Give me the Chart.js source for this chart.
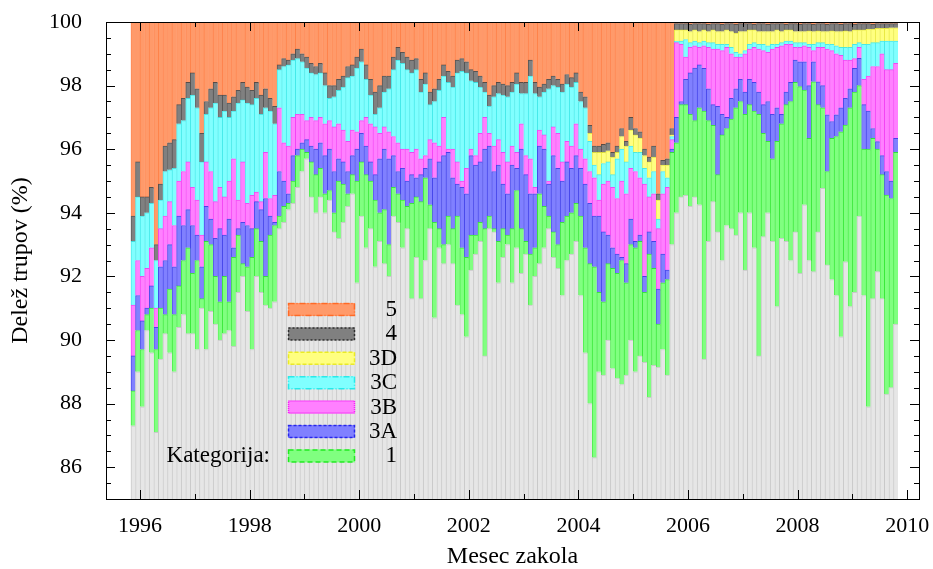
<!DOCTYPE html>
<html>
<head>
<meta charset="utf-8">
<script src="https://cdn.jsdelivr.net/npm/chart.js@4"></script>
<style>
  body { margin: 0; background: #fff; }
  canvas { display: block; }
</style>
</head>
<body>
<canvas id="chart" width="933" height="569"></canvas>
<script>
// one bar per month, November 1995 .. October 2009
var firstYear = 1995, firstMonth = 11, monthCount = 168;
var yearTicks = [1996, 1998, 2000, 2002, 2004, 2006, 2008, 2010];
var percentTicks = [86, 88, 90, 92, 94, 96, 98, 100];

// upper edge (cumulative %) of every class
var edgeRest = [
  87.3, 89.0, 87.9, 90.3, 89.6, 87.1, 89.4, 90.2, 89.6, 89.0, 90.4, 90.8, 90.2, 90.2, 89.7, 91.0, 89.7, 90.9, 90.5, 90.0, 90.2,
  90.3, 89.8, 91.5, 92.0, 90.9, 89.7, 92.0, 91.5, 91.1, 91.0, 91.2, 93.5, 93.7, 94.1, 94.3, 94.8, 95.3, 95.7, 94.5, 94.0, 94.5,
  94.0, 94.4, 93.4, 93.2, 93.7, 94.2, 94.6, 91.8, 93.9, 92.9, 93.5, 92.3, 93.1, 92.4, 92.0, 93.9, 93.7, 92.9, 93.5, 91.3, 92.6,
  91.3, 92.5, 93.5, 90.7, 92.9, 92.4, 93.0, 92.4, 91.1, 90.8, 90.1, 92.2, 92.7, 93.1, 89.5, 93.5, 93.4, 91.8, 92.6, 93.0,
  91.8, 92.9, 92.1, 92.7, 91.1, 92.0, 92.4, 92.9, 93.5, 92.6, 92.25, 91.4, 92.5, 92.7, 93.1, 91.4, 89.6, 88.0, 86.3, 89.0,
  88.9, 90.0, 89.1, 88.8, 88.6, 88.9, 90.0, 89.0, 89.5, 89.3, 88.2, 89.2, 89.15, 89.7, 88.9, 93.0,
  94.0, 94.5, 94.55, 94.2, 94.5, 94.25, 89.4, 93.1, 94.35, 93.4, 92.5, 93.6, 93.5, 93.3, 94.0, 92.2, 94.0, 92.9, 89.5, 93.25, 94.0, 93.1, 91.05, 93.2, 93.1, 92.5, 93.4,
  92.1, 94.25, 92.5, 92.15, 93.4, 94.77, 92.36, 91.9, 91.4, 90.1, 92.46, 91.05, 91.5, 93.9, 91.4, 87.9, 91.3, 92.15, 91.3, 88.3, 88.5, 90.5
];
var edge1 = [
  88.4, 90.3, 89.7, 90.8, 91.0, 89.7, 91.0, 90.8, 91.6, 90.8, 91.7, 92.5, 92.9, 92.1, 92.5, 91.3, 93.1, 93.0, 92.0, 91.2, 92.0,
  91.2, 92.6, 93.3, 92.4, 92.3, 92.6, 93.5, 93.1, 92.0, 93.3, 93.6, 93.9, 94.2, 94.3, 95.0, 95.8, 96.0, 95.9, 95.6, 95.2, 95.4,
  94.6, 94.7, 94.0, 95.0, 94.9, 94.6, 95.2, 95.0, 95.6, 95.2, 95.0, 94.4, 94.0, 94.1, 93.0, 94.8, 94.6, 94.4, 94.2, 94.3, 94.5,
  94.35, 95.1, 94.25, 93.7, 93.5, 93.0, 93.9, 93.5, 93.9, 92.9, 92.6, 93.3, 93.3, 93.7, 93.5, 93.9, 93.5, 93.1, 93.5, 93.3,
  93.5, 94.7, 93.5, 93.1, 92.7, 92.9, 94.6, 94.2, 93.9, 93.4, 93.0, 93.7, 93.9, 94.0, 94.3, 93.9, 92.9, 92.4, 92.3, 91.5,
  91.2, 92.4, 92.25, 92.1, 92.5, 91.8, 93.0, 92.9, 93.1, 91.5, 92.7, 92.25, 90.5, 91.8, 91.9, 95.9,
  96.2, 97.4, 97.4, 97.1, 96.9, 97.3, 97.2, 96.9, 96.75, 95.2, 96.45, 96.65, 96.95, 97.3, 97.5, 97.1, 97.4, 97.2, 97.1, 96.5, 96.25, 95.7, 96.25, 96.8, 97.4, 97.5, 98.1,
  97.97, 97.86, 96.34, 98.12, 97.4, 97.3, 95.3, 96.34, 96.4, 96.55, 96.76, 97.3, 97.8, 98.0, 96.0, 96.0, 96.34, 96.0, 95.2, 94.56, 94.45, 95.9
];
var edge3A = [
  89.5, 91.4, 90.6, 91.0, 91.7, 90.4, 92.3, 92.5, 93.0, 92.3, 93.9, 93.6, 94.1, 93.6, 93.3, 92.3, 94.2, 93.8, 93.2, 93.5, 93.3,
  93.8, 92.9, 93.5, 93.7, 93.6, 93.5, 94.35, 94.1, 94.45, 93.9, 93.7, 95.3, 95.0, 94.6, 95.8, 96.0, 96.2, 96.3, 96.1, 96.0, 96.2,
  95.8, 96.0, 95.3, 95.7, 95.6, 95.3, 95.8, 96.0, 96.5, 96.1, 95.6, 95.2, 95.7, 96.0, 95.7, 95.8, 95.3, 95.4, 95.0, 95.2, 95.1,
  95.2, 95.4, 95.7, 95.1, 95.6, 95.8, 95.9, 95.1, 94.9, 94.8, 94.6, 95.8, 95.5, 95.6, 96.0, 96.1, 95.3, 95.5, 94.9, 94.6,
  95.5, 95.4, 96.0, 95.2, 94.6, 94.6, 96.1, 96.0, 94.9, 95.8, 95.4, 95.0, 95.6, 95.4, 95.8, 95.4, 94.9, 94.3, 93.9, 93.9,
  93.4, 93.3, 92.9, 92.7, 92.6, 92.4, 93.8, 93.1, 93.3, 92.0, 93.4, 93.1, 91.6, 92.7, 92.2, 96.0,
  97.0, 97.5, 98.2, 98.4, 98.55, 98.65, 98.54, 97.9, 97.4, 97.35, 97.1, 97.0, 97.6, 97.9, 98.2, 97.8, 98.2, 98.1, 97.8, 97.4, 97.5, 97.1, 97.3, 97.1, 97.8, 98.1, 98.8,
  98.75, 98.75, 98.0, 98.75, 98.12, 98.0, 97.08, 96.87, 97.08, 97.3, 97.6, 97.9, 98.54, 98.86, 97.4, 97.2, 96.65, 96.24, 95.8, 95.3, 95.0, 96.34
];
var edge3B = [
  91.1, 92.5, 92.0, 92.25, 92.9, 91.0, 93.5, 93.9, 94.35, 93.6, 95.0, 95.3, 95.6, 94.8, 94.4, 93.3, 95.6, 95.3, 94.35, 94.8, 94.5,
  95.0, 95.7, 94.4, 95.6, 94.3, 94.55, 94.65, 94.35, 95.9, 94.45, 94.55, 97.3, 96.2, 96.1, 97.0, 97.1, 97.1, 96.9, 97.0, 96.9, 97.0,
  96.8, 96.9, 96.7, 96.8, 96.6, 96.25, 96.6, 96.55, 96.9, 97.0, 96.8, 96.7, 96.5, 96.7, 96.55, 96.4, 96.2, 96.0, 96.0, 95.9, 96.0,
  95.7, 95.8, 96.3, 96.2, 96.1, 97.0, 96.0, 96.0, 95.6, 95.0, 95.4, 96.0, 95.8, 96.5, 97.0, 96.5, 96.1, 96.3, 95.9, 95.6,
  96.1, 95.9, 96.8, 95.8, 95.7, 94.8, 96.6, 96.45, 95.0, 96.7, 96.5, 95.6, 96.25, 96.1, 96.8, 96.0, 95.7, 95.3, 95.1, 94.4,
  94.9, 95.0, 94.8, 94.45, 95.0, 94.6, 95.4, 95.3, 95.1, 94.9, 94.5, 94.6, 93.5, 94.6, 94.8, 96.3,
  99.35, 99.3, 98.9, 99.2, 99.25, 99.2, 99.25, 99.2, 99.15, 99.15, 99.1, 99.2, 99.0, 98.9, 98.9, 99.0, 99.15, 99.2, 99.15, 99.1, 99.05, 99.15, 99.2, 99.25, 99.3, 99.3, 99.2,
  99.2, 99.25, 99.2, 99.1, 99.2, 99.2, 99.15, 99.1, 99.0, 98.95, 98.8, 98.8, 98.85, 99.2, 98.2, 98.3, 98.6, 98.6, 99.0, 98.5, 98.5, 98.7
];
var edge3C = [
  93.1, 94.5, 93.9, 94.0, 94.3, 92.5, 94.4, 95.3, 95.35, 95.4, 96.8, 96.9, 97.6, 97.7, 97.3, 95.6, 97.1, 97.3, 97.45, 97.0, 97.2,
  97.0, 97.2, 97.45, 97.55, 97.45, 97.4, 97.6, 97.1, 97.3, 97.2, 96.8, 98.5, 98.6, 98.65, 98.8, 98.85, 98.75, 98.55, 98.4, 98.35, 98.4,
  98.0, 97.6, 97.65, 97.85, 97.95, 98.25, 98.3, 98.55, 98.75, 98.2, 97.7, 97.1, 97.3, 97.8, 97.9, 98.5, 98.8, 98.7, 98.5, 98.4, 98.5,
  97.8, 98.05, 97.4, 97.5, 97.85, 98.3, 98.1, 97.95, 98.4, 98.45, 98.4, 98.15, 98.1, 97.95, 97.8, 97.35, 97.65, 97.75, 97.7, 97.65,
  97.8, 98.05, 97.75, 97.75, 98.3, 97.75, 97.65, 97.8, 97.9, 98.0, 97.95, 97.8, 98.05, 97.95, 98.1, 97.5, 97.3, 96.25, 95.5, 95.2,
  95.55, 95.6, 95.2, 95.7, 96.0, 95.6, 96.1, 95.9, 95.9, 95.4, 95.1, 95.3, 93.8, 95.3, 95.1, 96.4,
  99.4, 99.4, 99.45, 99.35, 99.4, 99.35, 99.4, 99.35, 99.35, 99.3, 99.3, 99.3, 99.2, 99.05, 99.0, 99.1, 99.3, 99.35, 99.3, 99.3, 99.25, 99.3, 99.3, 99.35, 99.4, 99.4, 99.35,
  99.35, 99.35, 99.3, 99.3, 99.35, 99.35, 99.3, 99.3, 99.25, 99.2, 99.2, 99.2, 99.3, 99.35, 99.3, 99.3, 99.35, 99.35, 99.4, 99.4, 99.4, 99.4
];
var edge3D = [
  93.1, 94.5, 93.9, 94.0, 94.3, 92.5, 94.4, 95.3, 95.35, 95.4, 96.8, 96.9, 97.6, 97.7, 97.3, 95.6, 97.1, 97.3, 97.45, 97.0, 97.2,
  97.0, 97.2, 97.45, 97.55, 97.45, 97.4, 97.6, 97.1, 97.3, 97.2, 96.8, 98.5, 98.6, 98.65, 98.8, 98.85, 98.75, 98.55, 98.4, 98.35, 98.4,
  98.0, 97.6, 97.65, 97.85, 97.95, 98.25, 98.3, 98.55, 98.75, 98.2, 97.7, 97.1, 97.3, 97.8, 97.9, 98.5, 98.8, 98.7, 98.5, 98.4, 98.5,
  97.8, 98.05, 97.4, 97.5, 97.85, 98.3, 98.1, 97.95, 98.4, 98.45, 98.4, 98.15, 98.1, 97.95, 97.8, 97.35, 97.65, 97.75, 97.7, 97.65,
  97.8, 98.05, 97.75, 97.75, 98.3, 97.75, 97.65, 97.8, 97.9, 98.0, 97.95, 97.8, 98.05, 97.95, 98.1, 97.5, 97.3, 96.5, 95.9, 95.9,
  95.9, 95.95, 95.75, 95.9, 96.4, 96.1, 96.6, 96.45, 96.35, 95.8, 95.6, 95.75, 94.4, 95.5, 95.5, 96.45,
  99.75, 99.75, 99.75, 99.7, 99.75, 99.7, 99.75, 99.7, 99.75, 99.7, 99.7, 99.75, 99.7, 99.65, 99.7, 99.7, 99.75, 99.75, 99.7, 99.7, 99.7, 99.7, 99.75, 99.7, 99.75, 99.75, 99.7,
  99.7, 99.7, 99.72, 99.7, 99.72, 99.7, 99.7, 99.72, 99.7, 99.7, 99.72, 99.7, 99.75, 99.75, 99.75, 99.78, 99.78, 99.8, 99.8, 99.8, 99.82, 99.82
];
var edge4 = [
  93.9, 95.6, 94.5, 94.5, 94.8, 93.0, 94.9, 96.1, 96.2, 96.3, 97.4, 97.6, 98.1, 98.4, 97.9, 96.5, 97.5, 97.9, 98.1, 97.7, 97.7,
  97.45, 97.65, 97.85, 98.1, 97.95, 97.85, 98.1, 97.7, 97.9, 97.6, 97.35, 98.65, 98.85, 98.8, 99.0, 99.15, 99.0, 98.9, 98.7, 98.6, 98.7,
  98.4, 98.0, 98.0, 98.2, 98.3, 98.6, 98.65, 98.9, 99.15, 98.65, 98.2, 97.8, 98.0, 98.3, 98.3, 98.9, 99.2, 99.05, 98.9, 98.8, 98.85,
  98.2, 98.4, 97.8, 97.9, 98.2, 98.65, 98.45, 98.3, 98.8, 98.85, 98.75, 98.5, 98.45, 98.3, 98.1, 97.7, 98.0, 98.1, 98.05, 98.0,
  98.1, 98.4, 98.1, 98.1, 98.8, 98.1, 97.95, 98.05, 98.2, 98.3, 98.2, 98.05, 98.35, 98.25, 98.4, 97.8, 97.65, 96.75, 96.1, 96.1,
  96.15, 96.2, 95.9, 96.1, 96.65, 96.25, 97.0, 96.65, 96.55, 96.0, 95.75, 96.1, 94.6, 95.65, 95.7, 96.65,
  99.95, 99.95, 99.95, 99.93, 99.95, 99.95, 99.95, 99.93, 99.95, 99.95, 99.93, 99.95, 99.95, 99.93, 99.95, 99.95, 99.95, 99.93, 99.95, 99.95, 99.93, 99.95, 99.95, 99.95, 99.93, 99.95, 99.95,
  99.93, 99.95, 99.95, 99.93, 99.95, 99.95, 99.93, 99.95, 99.95, 99.93, 99.95, 99.95, 99.93, 99.95, 99.95, 99.95, 99.93, 99.95, 99.95, 99.95, 99.95, 99.95
];

var months = [];
for (var i = 0; i < monthCount; i++) {
  var m = firstMonth - 1 + i;
  months.push({ year: firstYear + Math.floor(m / 12), month: (m % 12) + 1 });
}
var monthX = months.map(function (d) { return d.year + (d.month - 0.5) / 12; });

var FONT = 'Liberation Serif';

// bands from bottom to top; the lowest grey band has no legend entry
var bands = [
  { name: '',   lo: null,     hi: edgeRest, fill: '#e6e6e6', line: '#c9c9c9', dash: [5, 3] },
  { name: '1',  lo: edgeRest, hi: edge1,    fill: '#80ff80', line: 'rgba(0,225,0,0.75)', dash: [5, 3] },
  { name: '3A', lo: edge1,    hi: edge3A,   fill: '#8080ff', line: 'rgba(0,0,225,0.7)', dash: [3, 2] },
  { name: '3B', lo: edge3A,   hi: edge3B,   fill: '#ff80ff', line: 'rgba(240,0,240,0.7)', dash: [1, 1] },
  { name: '3C', lo: edge3B,   hi: edge3C,   fill: '#80ffff', line: 'rgba(0,225,225,0.7)', dash: [6, 2, 1, 2] },
  { name: '3D', lo: edge3C,   hi: edge3D,   fill: '#ffff80', line: 'rgba(225,225,0,0.7)', dash: [4, 2] },
  { name: '4',  lo: edge3D,   hi: edge4,    fill: '#808080', line: 'rgba(0,0,0,0.65)', dash: [2, 2] },
  { name: '5',  lo: edge4,    hi: null,     fill: '#ff9a6a', line: 'rgba(255,85,10,0.7)', dash: [6, 2, 1, 2] }
];

var datasets = bands.map(function (b) {
  return {
    label: b.name,
    data: monthX.map(function (x, i) {
      return { x: x, y: [b.lo ? b.lo[i] : 0, b.hi ? b.hi[i] : 100] };
    }),
    backgroundColor: b.fill,
    borderColor: b.line,
    borderWidth: { left: 1, top: 1, right: 0, bottom: 0 },
    borderSkipped: false,
    barPercentage: 1,
    categoryPercentage: 1,
    grouped: false
  };
});

// frame with inward ticks, like the original plot
var framePlugin = {
  id: 'frame',
  afterDraw: function (chart) {
    var ctx = chart.ctx, a = chart.chartArea, x = chart.scales.x, y = chart.scales.y;
    ctx.save();
    ctx.strokeStyle = '#000';
    ctx.lineWidth = 1;
    ctx.strokeRect(Math.round(a.left) + 0.5, Math.round(a.top) + 0.5,
      Math.round(a.right - a.left), Math.round(a.bottom - a.top));
    ctx.beginPath();
    for (var v = 85.5; v < 100; v += 0.5) {
      var py = Math.round(y.getPixelForValue(v)) + 0.5;
      var len = v % 2 === 0 ? 9 : 5;
      ctx.moveTo(a.left, py); ctx.lineTo(a.left + len, py);
      ctx.moveTo(a.right, py); ctx.lineTo(a.right - len, py);
    }
    for (var yr = 1996; yr <= 2010; yr++) {
      var px = Math.round(x.getPixelForValue(yr)) + 0.5;
      var l2 = yr % 2 === 0 ? 9 : 5;
      ctx.moveTo(px, a.bottom); ctx.lineTo(px, a.bottom - l2);
      ctx.moveTo(px, a.top); ctx.lineTo(px, a.top + l2);
    }
    ctx.stroke();
    ctx.restore();
  }
};

// legend inside the plot, top to bottom: 5, 4, 3D, 3C, 3B, 3A, 1
var legendPlugin = {
  id: 'keyBox',
  afterDraw: function (chart) {
    var ctx = chart.ctx;
    var entries = bands.slice(1).reverse();
    ctx.save();
    ctx.font = '23px "' + FONT + '"';
    ctx.textBaseline = 'middle';
    ctx.textAlign = 'right';
    entries.forEach(function (b, i) {
      var top = 303 + i * 24.4;
      ctx.fillStyle = b.fill;
      ctx.fillRect(288, top, 67, 13);
      ctx.setLineDash(b.dash);
      ctx.strokeStyle = b.line;
      ctx.lineWidth = 1.5;
      ctx.strokeRect(288.5, top + 0.5, 66, 12);
      ctx.setLineDash([]);
      ctx.fillStyle = '#000';
      ctx.fillText(b.name, 397, top + 7);
    });
    ctx.fillText('Kategorija:', 270, 303 + 6 * 24.4 + 7);
    ctx.restore();
  }
};

Chart.defaults.color = '#000';
Chart.defaults.font.family = FONT;

new Chart(document.getElementById('chart').getContext('2d'), {
  type: 'bar',
  data: { datasets: datasets },
  options: {
    responsive: false,
    animation: false,
    layout: { padding: { left: 0, right: 14, top: 22, bottom: 0 } },
    plugins: { legend: { display: false }, tooltip: { enabled: false } },
    scales: {
      x: {
        type: 'linear',
        min: 1995.378,
        max: 2010.216,
        offset: false,
        grid: { display: false, drawTicks: false },
        border: { display: false },
        afterBuildTicks: function (s) { s.ticks = yearTicks.map(function (v) { return { value: v }; }); },
        afterFit: function (s) { s.height = 70; s.paddingLeft = 0; s.paddingRight = 0; },
        ticks: { padding: 14, maxRotation: 0, autoSkip: false, font: { size: 22 },
                 callback: function (v) { return String(v); } },
        title: { display: true, text: 'Mesec zakola', font: { size: 24, lineHeight: 1 },
                 padding: { top: 0, bottom: 0 } }
      },
      y: {
        min: 85,
        max: 100,
        grid: { display: false, drawTicks: false },
        border: { display: false },
        afterBuildTicks: function (s) { s.ticks = percentTicks.map(function (v) { return { value: v }; }); },
        afterFit: function (s) { s.width = 106; s.paddingTop = 0; s.paddingBottom = 0; },
        ticks: { padding: 24, font: { size: 22 } },
        title: { display: true, text: 'Delež trupov (%)', font: { size: 24, lineHeight: 1 },
                 padding: { top: 9, bottom: 0 } }
      }
    }
  },
  plugins: [framePlugin, legendPlugin]
});
</script>
</body>
</html>
